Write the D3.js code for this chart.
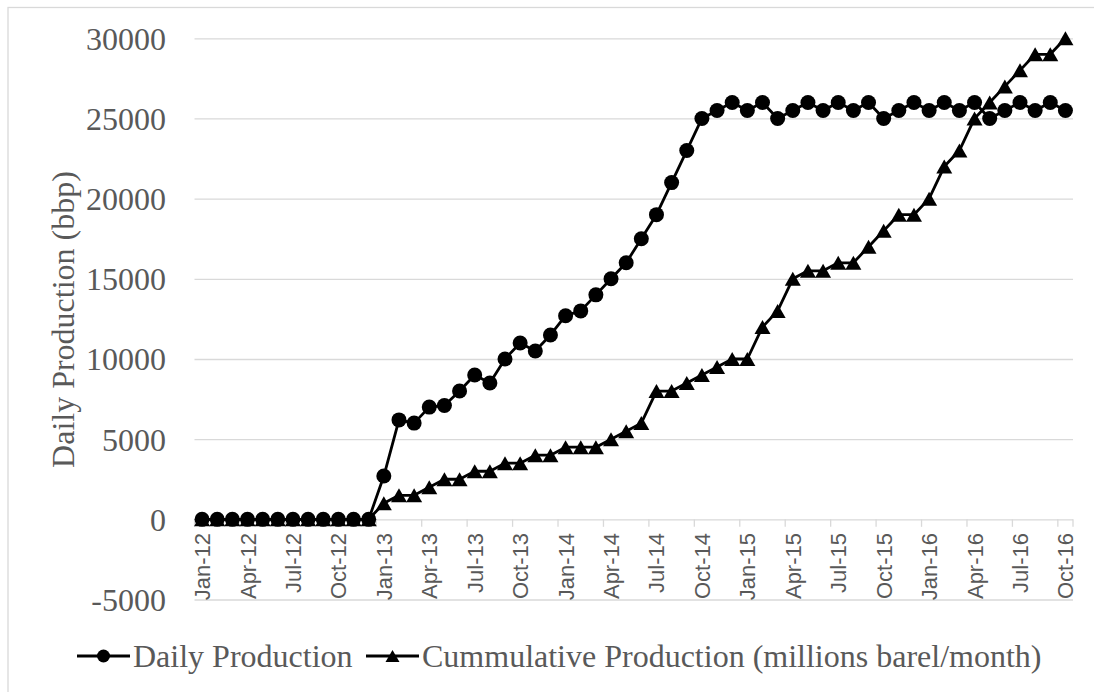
<!DOCTYPE html>
<html>
<head>
<meta charset="utf-8">
<script src="https://cdn.jsdelivr.net/npm/d3@7"></script>
<style>
  html, body { margin: 0; padding: 0; background: #fff; }
  svg { display: block; }
</style>
</head>
<body>
<svg id="chart" width="1094" height="692"></svg>
<script>
// Monthly categories, Jan-12 through Oct-16
const months = [
  "Jan-12","Feb-12","Mar-12","Apr-12","May-12","Jun-12","Jul-12","Aug-12","Sep-12","Oct-12","Nov-12","Dec-12",
  "Jan-13","Feb-13","Mar-13","Apr-13","May-13","Jun-13","Jul-13","Aug-13","Sep-13","Oct-13","Nov-13","Dec-13",
  "Jan-14","Feb-14","Mar-14","Apr-14","May-14","Jun-14","Jul-14","Aug-14","Sep-14","Oct-14","Nov-14","Dec-14",
  "Jan-15","Feb-15","Mar-15","Apr-15","May-15","Jun-15","Jul-15","Aug-15","Sep-15","Oct-15","Nov-15","Dec-15",
  "Jan-16","Feb-16","Mar-16","Apr-16","May-16","Jun-16","Jul-16","Aug-16","Sep-16","Oct-16"
];

// Daily production (bbp)
const dailyProduction = [
  0, 0, 0, 0, 0, 0, 0, 0, 0, 0, 0, 0,
  2700, 6200, 6000, 7000, 7100, 8000, 9000, 8500, 10000, 11000, 10500, 11500,
  12700, 13000, 14000, 15000, 16000, 17500, 19000, 21000, 23000, 25000, 25500, 26000,
  25500, 26000, 25000, 25500, 26000, 25500, 26000, 25500, 26000, 25000, 25500, 26000,
  25500, 26000, 25500, 26000, 25000, 25500, 26000, 25500, 26000, 25500
];

// Cumulative production (millions barel/month)
const cumulativeProduction = [
  0, 0, 0, 0, 0, 0, 0, 0, 0, 0, 0, 0,
  1000, 1500, 1500, 2000, 2500, 2500, 3000, 3000, 3500, 3500, 4000, 4000,
  4500, 4500, 4500, 5000, 5500, 6000, 8000, 8000, 8500, 9000, 9500, 10000,
  10000, 12000, 13000, 15000, 15500, 15500, 16000, 16000, 17000, 18000, 19000, 19000,
  20000, 22000, 23000, 25000, 26000, 27000, 28000, 29000, 29000, 30000
];

const yTickValues = [-5000, 0, 5000, 10000, 15000, 20000, 25000, 30000];
const xLabelMonths = months.filter((m, i) => i % 3 === 0);
const seriesNames = ["Daily Production", "Cummulative Production (millions barel/month)"];
const yAxisTitle = "Daily Production (bbp)";

const svg = d3.select("#chart");
const W = 1094, H = 692;
const plot = { left: 194.5, right: 1073, top: 38.3, bottom: 599.5 };
const GREY_TEXT = "#595959";
const GRID = "#d9d9d9";
const SERIF = "'Liberation Serif', 'Times New Roman', serif";
const SANS = "'Liberation Sans', Arial, sans-serif";
const LINE_W = 2.8;

svg.append("rect").attr("width", W).attr("height", H).attr("fill", "#fff");
// chart frame
svg.append("rect")
  .attr("x", 8).attr("y", 7.5).attr("width", 1100).attr("height", 700)
  .attr("fill", "none").attr("stroke", GRID).attr("stroke-width", 1.3);

const x = d3.scaleBand().domain(months).range([plot.left, plot.right]).padding(0);
const cx = m => x(m) + x.bandwidth() / 2;
const y = d3.scaleLinear().domain([-5000, 30000]).range([plot.bottom, plot.top]);

// value axis with gridlines
const yAxis = svg.append("g")
  .attr("transform", `translate(${plot.left},0)`)
  .call(d3.axisLeft(y).tickValues(yTickValues).tickFormat(d => String(d))
    .tickSize(-(plot.right - plot.left)).tickPadding(28.5));
yAxis.select(".domain").remove();
yAxis.selectAll(".tick line").attr("stroke", GRID).attr("stroke-width", 1.3);
yAxis.selectAll(".tick text")
  .attr("font-family", SERIF).attr("font-size", 32).attr("fill", GREY_TEXT)
  .attr("dy", "0.34em");

// category axis at zero
const y0 = y(0);
const tickBoundaries = xLabelMonths.map(m => x(m)).concat([plot.right]);
svg.append("g").selectAll("line").data(tickBoundaries).join("line")
  .attr("x1", d => d).attr("x2", d => d)
  .attr("y1", y0).attr("y2", y0 + 7.5)
  .attr("stroke", GRID).attr("stroke-width", 1.3);

svg.append("g").selectAll("text").data(xLabelMonths).join("text")
  .attr("transform", d => `translate(${cx(d) + 8},533) rotate(-90)`)
  .attr("text-anchor", "end")
  .attr("font-family", SANS).attr("font-size", 22).attr("fill", GREY_TEXT)
  .text(d => d);

// axis title
svg.append("text")
  .attr("transform", "translate(73.5,319.5) rotate(-90)")
  .attr("text-anchor", "middle")
  .attr("font-family", SERIF).attr("font-size", 32).attr("fill", GREY_TEXT)
  .text(yAxisTitle);

// marker shapes
const triPath = (w, h) => `M0,${-h / 2}L${w / 2},${h / 2}L${-w / 2},${h / 2}Z`;

const line = d3.line().x(d => cx(d.m)).y(d => y(d.v));
const dailyData = months.map((m, i) => ({ m, v: dailyProduction[i] }));
const cumData = months.map((m, i) => ({ m, v: cumulativeProduction[i] }));

// daily production series
svg.append("path").datum(dailyData)
  .attr("d", line).attr("fill", "none")
  .attr("stroke", "#000").attr("stroke-width", LINE_W).attr("stroke-linejoin", "round");
svg.append("g").selectAll("circle").data(dailyData).join("circle")
  .attr("cx", d => cx(d.m)).attr("cy", d => y(d.v)).attr("r", 7.5)
  .attr("fill", "#000");

// cumulative production series
svg.append("path").datum(cumData)
  .attr("d", line).attr("fill", "none")
  .attr("stroke", "#000").attr("stroke-width", LINE_W).attr("stroke-linejoin", "round");
svg.append("g").selectAll("path").data(cumData).join("path")
  .attr("transform", d => `translate(${cx(d.m)},${y(d.v)})`)
  .attr("d", triPath(16, 14))
  .attr("fill", "#000");

// legend
const legY = 656;
const legend = svg.append("g");
const legendItems = [
  { name: seriesNames[0], lx: 77, tx: 133, marker: "circle" },
  { name: seriesNames[1], lx: 366, tx: 422, marker: "triangle" }
];
legendItems.forEach(it => {
  legend.append("line")
    .attr("x1", it.lx).attr("x2", it.lx + 53).attr("y1", legY).attr("y2", legY)
    .attr("stroke", "#000").attr("stroke-width", LINE_W);
  if (it.marker === "circle") {
    legend.append("circle").attr("cx", it.lx + 26.5).attr("cy", legY).attr("r", 6.5).attr("fill", "#000");
  } else {
    legend.append("path").attr("transform", `translate(${it.lx + 26.5},${legY})`)
      .attr("d", triPath(14, 12)).attr("fill", "#000");
  }
  legend.append("text")
    .attr("x", it.tx).attr("y", 667)
    .attr("font-family", SERIF).attr("font-size", 32).attr("fill", GREY_TEXT)
    .text(it.name);
});
</script>
</body>
</html>
